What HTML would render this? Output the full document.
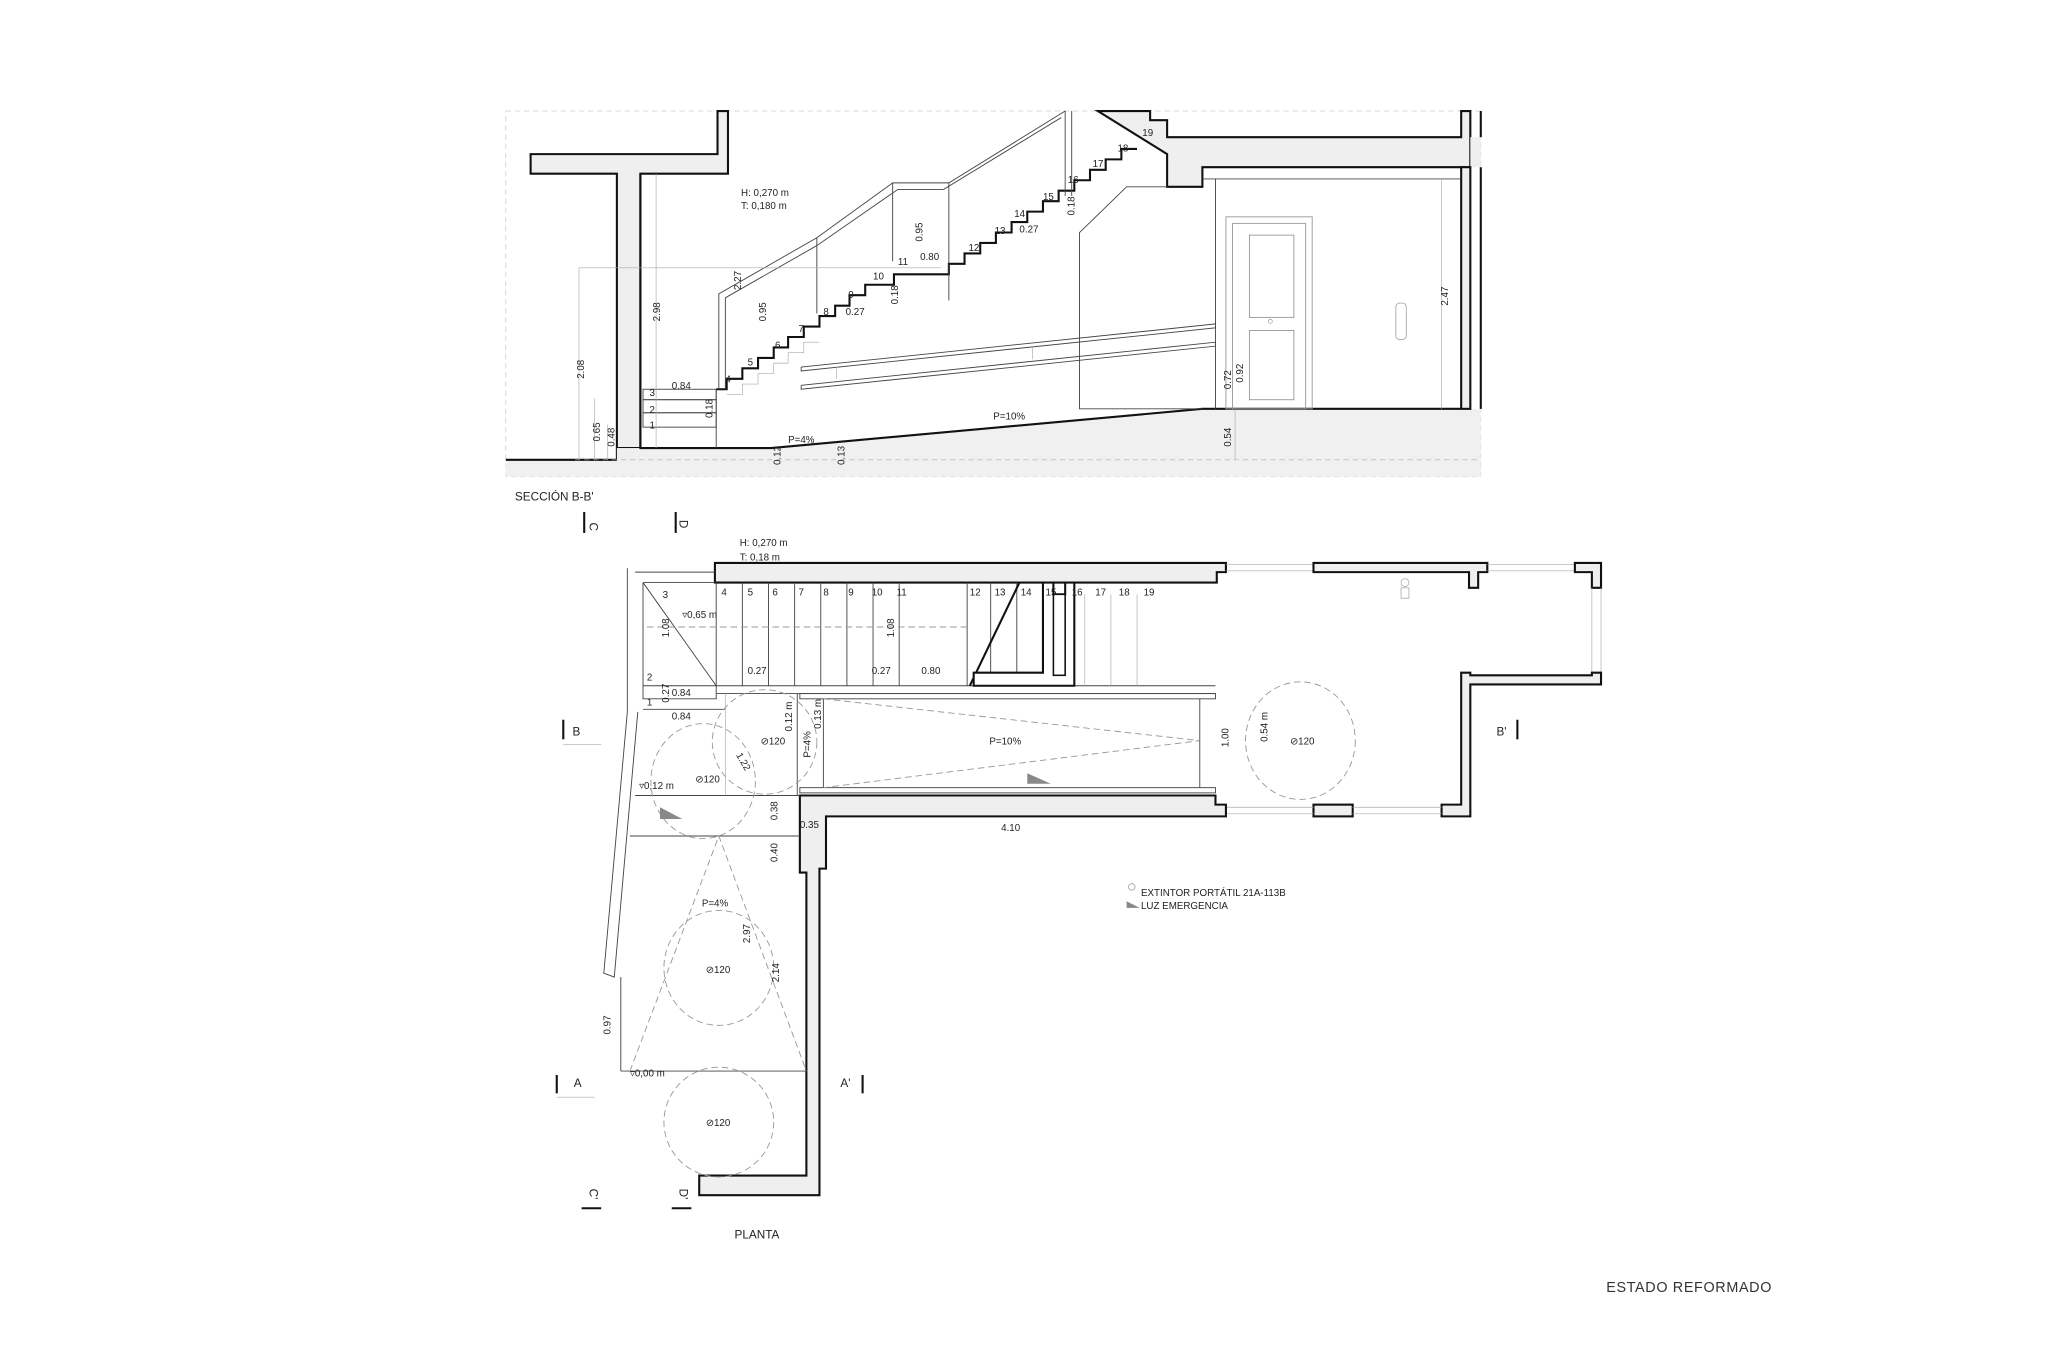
<!DOCTYPE html>
<html><head><meta charset="utf-8"><style>
html,body{margin:0;padding:0;background:#fff;}
svg{display:block;}
text{font-family:"Liberation Sans",sans-serif;fill:#222;}
</style></head><body>
<svg width="2048" height="1365" viewBox="0 0 1567 1045" preserveAspectRatio="none" xmlns="http://www.w3.org/2000/svg">
<defs>
<style>
.w{fill:#efefef;stroke:#111;stroke-width:1.6;}
.t{stroke:#444;stroke-width:0.7;fill:none;}
.l{stroke:#aaa;stroke-width:0.5;fill:none;}
.d{stroke:#999;stroke-width:0.7;fill:none;stroke-dasharray:5 3;}
.k{stroke:#111;stroke-width:1.6;fill:none;}
.s{font-size:7.5px;}
.g{font-size:7.5px;fill:#888;}
</style>
</defs>

<rect x="387" y="85" width="746" height="280" fill="none" stroke="#ccc" stroke-width="0.6" stroke-dasharray="4 3"/>
<polygon points="387,352 472,352 472,343 590,343 920,313 1133,313 1133,365 387,365" fill="#f0f0f0"/>
<polyline class="k" points="387,352 472,352"/>
<polygon class="w" points="472,352 472,133 406,133 406,118 549,118 549,85 557,85 557,133 490,133 490,343 472,343"/>
<rect x="472" y="343" width="18" height="9" fill="#efefef"/>
<polyline class="k" points="490,133 490,343 590,343 920,313 1118,313"/>
<polygon class="w" points="840,85 880,85 880,92 893,92 893,105 1118,105 1118,85 1125,85 1125,128 920,128 920,143 893,143 893,118"/>
<polygon points="1125,105 1133,105 1133,128 1125,128" fill="#efefef"/>
<rect x="1118" y="128" width="7" height="185" class="w"/>
<line class="k" x1="1133" y1="128" x2="1133" y2="313" stroke-width="1"/>
<line class="k" x1="1133" y1="85" x2="1133" y2="105" stroke-width="1"/>
<line class="t" x1="920" y1="137" x2="1118" y2="137"/>
<polyline class="t" points="893,143 862,143 826,178 826,313 920,313"/>
<line class="t" x1="930" y1="137" x2="930" y2="313"/>
<rect x="938" y="166" width="66" height="147" fill="none" stroke="#999" stroke-width="0.7"/>
<rect x="943" y="171" width="56" height="142" fill="none" stroke="#999" stroke-width="0.7"/>
<rect x="956" y="180" width="34" height="63" fill="none" stroke="#999" stroke-width="0.7"/>
<rect x="956" y="253" width="34" height="53" fill="none" stroke="#999" stroke-width="0.7"/>
<circle cx="972" cy="246" r="1.5" fill="none" stroke="#999" stroke-width="0.5"/>
<rect x="1068" y="232" width="8" height="28" rx="3" fill="none" stroke="#aaa" stroke-width="0.7"/>
<line class="l" x1="1103" y1="137" x2="1103" y2="313"/>
<polyline class="k" stroke-width="0.9" points="548,298 556,298 556,290 568,290 568,282 580,282 580,274 592,274 592,266 603,266 603,258 615,258 615,250 627,250 627,242 639,242 639,234 650,234 650,226 662,226 662,218 684,218 684,210 726,210 726,202 738,202 738,194 750,194 750,186 762,186 762,178 774,178 774,170 786,170 786,162 798,162 798,154 810,154 810,146 822,146 822,138 834,138 834,130 846,130 846,122 858,122 858,114 870,114"/>
<polyline class="l" points="556,302 568,302 568,294 580,294 580,286 592,286 592,278 603,278 603,270 615,270 615,262 627,262"/>
<rect x="492" y="298" width="56" height="8" class="t"/>
<rect x="492" y="306" width="56" height="10" class="t"/>
<rect x="492" y="316" width="56" height="11" class="t"/>
<line class="t" x1="548" y1="298" x2="548" y2="343"/>
<polyline class="t" points="550,298 550,225 625,182 683,140 726,140 815,85"/>
<polyline class="t" points="555,298 555,228 625,188 687,145 722,145 812,90"/>
<line class="t" x1="625" y1="182" x2="625" y2="240"/>
<line class="t" x1="683" y1="140" x2="683" y2="200"/>
<line class="t" x1="726" y1="140" x2="726" y2="230"/>
<line class="t" x1="815" y1="85" x2="815" y2="150"/>
<line class="t" x1="820" y1="85" x2="820" y2="150"/>
<polyline class="t" points="613,281 930,248 930,251 613,284 613,281"/>
<polyline class="t" points="613,295 930,262 930,265 613,298 613,295"/>
<line class="l" x1="640" y1="281" x2="640" y2="290"/>
<line class="l" x1="790" y1="265" x2="790" y2="275"/>
<line class="l" x1="443" y1="205" x2="720" y2="205"/>
<line class="l" x1="443" y1="205" x2="443" y2="352"/>
<line class="l" x1="455" y1="305" x2="455" y2="352"/>
<line class="l" x1="465" y1="325" x2="465" y2="352"/>
<line class="l" x1="502" y1="133" x2="502" y2="343"/>
<line class="l" x1="945" y1="313" x2="945" y2="352"/>
<line class="l" x1="440" y1="352" x2="1133" y2="352" stroke-dasharray="4 3"/>
<text class="s" x="567" y="150">H: 0,270 m</text>
<text class="s" x="567" y="160">T: 0,180 m</text>
<g class="s">
<text x="497" y="303">3</text><text x="497" y="316">2</text><text x="497" y="328">1</text>
<text x="555" y="293">4</text><text x="572" y="280">5</text><text x="593" y="267">6</text><text x="611" y="254">7</text><text x="630" y="241">8</text><text x="649" y="228">9</text><text x="668" y="214">10</text><text x="687" y="203">11</text><text x="741" y="192">12</text><text x="761" y="179">13</text><text x="776" y="166">14</text><text x="798" y="153">15</text><text x="817" y="140">16</text><text x="836" y="128">17</text><text x="855" y="116">18</text><text x="874" y="104">19</text>
<text x="514" y="298">0.84</text><text x="647" y="241">0.27</text><text x="704" y="199">0.80</text><text x="780" y="178">0.27</text>
<text x="603" y="339">P=4%</text><text x="760" y="321">P=10%</text>
</g>
<g class="s">
<text transform="translate(505,246) rotate(-90)">2.98</text>
<text transform="translate(447,290) rotate(-90)">2.08</text>
<text transform="translate(459,338) rotate(-90)">0.65</text>
<text transform="translate(470,342) rotate(-90)">0.48</text>
<text transform="translate(545,320) rotate(-90)">0.18</text>
<text transform="translate(567,222) rotate(-90)">2.27</text>
<text transform="translate(586,246) rotate(-90)">0.95</text>
<text transform="translate(687,233) rotate(-90)">0.18</text>
<text transform="translate(706,185) rotate(-90)">0.95</text>
<text transform="translate(822,165) rotate(-90)">0.18</text>
<text transform="translate(597,356) rotate(-90)">0.12</text>
<text transform="translate(646,356) rotate(-90)">0.13</text>
<text transform="translate(942,298) rotate(-90)">0.72</text>
<text transform="translate(951,293) rotate(-90)">0.92</text>
<text transform="translate(942,342) rotate(-90)">0.54</text>
<text transform="translate(1108,234) rotate(-90)">2.47</text>
</g>
<text x="394" y="383" style="font-size:9px">SECCIÓN B-B'</text>

<g class="s" style="font-size:9px">
<line class="k" x1="447" y1="392" x2="447" y2="408" stroke-width="1"/><text transform="translate(451,400) rotate(90)">C</text>
<line class="k" x1="517" y1="392" x2="517" y2="408" stroke-width="1"/><text transform="translate(520,398) rotate(90)">D</text>
<line class="k" x1="431" y1="551" x2="431" y2="566" stroke-width="1"/><text x="438" y="563">B</text>
<line class="l" x1="431" y1="570" x2="460" y2="570"/>
<line class="k" x1="1161" y1="551" x2="1161" y2="566" stroke-width="1"/><text x="1145" y="563">B'</text>
<line class="k" x1="426" y1="823" x2="426" y2="837" stroke-width="1"/><text x="439" y="832">A</text>
<line class="l" x1="426" y1="840" x2="455" y2="840"/>
<line class="k" x1="660" y1="823" x2="660" y2="837" stroke-width="1"/><text x="643" y="832">A'</text>
<line class="k" x1="445" y1="925" x2="460" y2="925" stroke-width="1"/><text transform="translate(451,910) rotate(90)">C'</text>
<line class="k" x1="514" y1="925" x2="529" y2="925" stroke-width="1"/><text transform="translate(520,910) rotate(90)">D'</text>
</g>
<text class="s" x="566" y="418">H: 0,270 m</text>
<text class="s" x="566" y="429">T: 0,18 m</text>

<polygon class="w" points="547,431 938,431 938,438 931,438 931,446 547,446"/>
<line class="l" x1="938" y1="432" x2="1005" y2="432"/><line class="l" x1="938" y1="437" x2="1005" y2="437"/>
<polygon class="w" points="1005,431 1138,431 1138,438 1131,438 1131,450 1124,450 1124,438 1005,438"/>
<line class="l" x1="1138" y1="432" x2="1205" y2="432"/><line class="l" x1="1138" y1="437" x2="1205" y2="437"/>
<polygon class="w" points="1205,431 1225,431 1225,450 1218,450 1218,438 1205,438"/>
<line class="l" x1="1218" y1="450" x2="1218" y2="515"/><line class="l" x1="1225" y1="450" x2="1225" y2="515"/>
<polygon class="w" points="1218,515 1225,515 1225,524 1125,524 1125,625 1103,625 1103,616 1118,616 1118,515 1125,515 1125,517 1218,517"/>
<rect class="w" x="1005" y="616" width="30" height="9"/>
<line class="l" x1="938" y1="618" x2="1005" y2="618"/><line class="l" x1="938" y1="623" x2="1005" y2="623"/>
<line class="l" x1="1035" y1="618" x2="1103" y2="618"/><line class="l" x1="1035" y1="623" x2="1103" y2="623"/>
<polygon class="w" points="612,609 930,609 930,616 938,616 938,625 632,625 632,665 627,665 627,915 535,915 535,900 617,900 617,668 612,668"/>
<polyline class="t" points="492,446 492,535 548,535 548,525 930,525"/>
<line class="t" x1="548" y1="531" x2="930" y2="531"/>
<line class="t" x1="492" y1="525" x2="548" y2="525"/>
<line class="t" x1="492" y1="446" x2="547" y2="446"/>
<line class="t" x1="492" y1="446" x2="548" y2="525"/>
<line class="t" x1="548" y1="446" x2="548" y2="525"/>
<g class="t"><line x1="568" y1="446" x2="568" y2="525"/><line x1="588" y1="446" x2="588" y2="525"/><line x1="608" y1="446" x2="608" y2="525"/><line x1="628" y1="446" x2="628" y2="525"/><line x1="648" y1="446" x2="648" y2="525"/><line x1="668" y1="446" x2="668" y2="525"/><line x1="688" y1="446" x2="688" y2="525"/><line x1="740" y1="446" x2="740" y2="525"/><line x1="758" y1="446" x2="758" y2="515"/><line x1="778" y1="446" x2="778" y2="515"/></g>
<line class="k" x1="742" y1="525" x2="780" y2="446" stroke-width="1.2"/>
<polygon class="w" points="798,446 806,446 806,455 815,455 815,446 822,446 822,525 745,525 745,515 798,515" style="fill:#fff"/>
<rect x="806" y="455" width="9" height="62" fill="#fff" stroke="#111" stroke-width="1.2"/>
<g class="l"><line x1="830" y1="455" x2="830" y2="525"/><line x1="850" y1="455" x2="850" y2="525"/><line x1="870" y1="455" x2="870" y2="525"/></g>
<line class="d" x1="495" y1="480" x2="740" y2="480"/>
<polyline class="t" points="480,435 480,545 462,745 470,748 488,545"/>
<polyline class="t" points="486,438 547,438"/>
<line class="t" x1="475" y1="748" x2="475" y2="820"/>
<line class="t" x1="475" y1="820" x2="617" y2="820"/>
<line class="t" x1="486" y1="609" x2="612" y2="609"/>
<line class="t" x1="482" y1="640" x2="612" y2="640"/>
<line class="t" x1="492" y1="543" x2="555" y2="543"/>
<line class="l" x1="555" y1="531" x2="555" y2="609"/>
<line class="t" x1="610" y1="531" x2="610" y2="609"/>
<rect x="612" y="531" width="318" height="4" class="t"/>
<rect x="612" y="603" width="318" height="4" class="t"/>
<line class="t" x1="630" y1="535" x2="630" y2="603"/>
<line class="t" x1="918" y1="535" x2="918" y2="603"/>
<polyline class="d" points="630,535 918,567 630,603"/>
<ellipse class="d" cx="585" cy="568" rx="40" ry="40"/>
<ellipse class="d" cx="538" cy="598" rx="40" ry="44"/>
<ellipse class="d" cx="550" cy="741" rx="42" ry="44"/>
<ellipse class="d" cx="550" cy="859" rx="42" ry="42"/>
<ellipse class="d" cx="995" cy="567" rx="42" ry="45"/>
<polyline class="d" points="482,820 550,640 617,820"/>
<polygon points="786,592 804,600 786,600" fill="#888"/>
<polygon points="505,618 522,627 505,627" fill="#888"/>
<circle cx="1075" cy="446" r="3" fill="none" stroke="#aaa" stroke-width="0.6"/>
<rect x="1072" y="450" width="6" height="8" fill="none" stroke="#aaa" stroke-width="0.6"/>
<g class="s">
<text x="507" y="458">3</text><text x="552" y="456">4</text><text x="572" y="456">5</text><text x="591" y="456">6</text><text x="611" y="456">7</text><text x="630" y="456">8</text><text x="649" y="456">9</text><text x="667" y="456">10</text><text x="686" y="456">11</text><text x="742" y="456">12</text><text x="761" y="456">13</text><text x="781" y="456">14</text><text x="800" y="456">15</text><text x="820" y="456">16</text><text x="838" y="456">17</text><text x="856" y="456">18</text><text x="875" y="456">19</text>
<text x="495" y="521">2</text><text x="495" y="540">1</text>
<text x="522" y="473">▿0,65 m</text>
<text x="572" y="516">0.27</text><text x="667" y="516">0.27</text><text x="705" y="516">0.80</text>
<text x="514" y="533">0.84</text><text x="514" y="551">0.84</text>
<text x="489" y="604">▿0,12 m</text>
<text x="757" y="570">P=10%</text>
<text x="537" y="694">P=4%</text>
<text x="482" y="824">▿0,00 m</text>
<text x="612" y="634">0.35</text><text x="766" y="636">4.10</text>
<text x="873" y="686">EXTINTOR PORTÁTIL 21A-113B</text>
<text x="873" y="696">LUZ EMERGENCIA</text>
</g>
<polygon points="862,690 872,695 862,695" fill="#888"/>
<circle cx="866" cy="679" r="2.5" fill="none" stroke="#999" stroke-width="0.6"/>
<g class="g"><text x="582" y="570">⊘120</text><text x="532" y="599">⊘120</text><text x="540" y="745">⊘120</text><text x="540" y="862">⊘120</text><text x="987" y="570">⊘120</text></g>
<g class="s">
<text transform="translate(512,488) rotate(-90)">1.08</text>
<text transform="translate(684,488) rotate(-90)">1.08</text>
<text transform="translate(512,538) rotate(-90)">0.27</text>
<text transform="translate(606,560) rotate(-90)">0.12 m</text>
<text transform="translate(620,580) rotate(-90)">P=4%</text>
<text transform="translate(628,558) rotate(-90)">0.13 m</text>
<text transform="translate(563,578) rotate(60)">1.22</text>
<text transform="translate(940,572) rotate(-90)">1.00</text>
<text transform="translate(970,568) rotate(-90)">0.54 m</text>
<text transform="translate(595,628) rotate(-90)">0.38</text>
<text transform="translate(595,660) rotate(-90)">0.40</text>
<text transform="translate(574,722) rotate(-90)">2.97</text>
<text transform="translate(596,752) rotate(-90)">2.14</text>
<text transform="translate(467,792) rotate(-90)">0.97</text>
</g>
<text x="562" y="948" style="font-size:9px">PLANTA</text>
<text x="1229" y="989" style="font-size:11px;letter-spacing:0.5px;fill:#333">ESTADO REFORMADO</text>
</svg>
</body></html>
